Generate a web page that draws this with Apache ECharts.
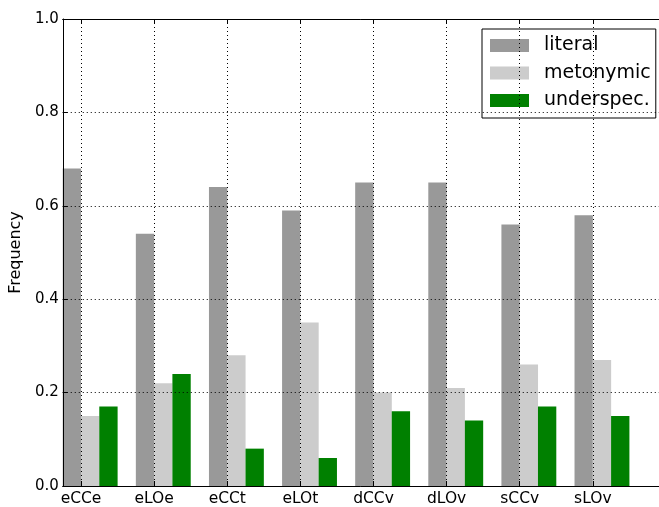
<!DOCTYPE html>
<html>
<head>
<meta charset="utf-8">
<script src="https://cdn.jsdelivr.net/npm/echarts@6/dist/echarts.min.js"></script>
<style>
  html, body { margin: 0; padding: 0; background: #fff; }
  #chart { width: 659px; height: 507px; }
</style>
</head>
<body>
<div id="chart"></div>
<script>
// categories and values
const categories = ["eCCe", "eLOe", "eCCt", "eLOt", "dCCv", "dLOv", "sCCv", "sLOv"];
const literal = [0.68, 0.54, 0.64, 0.59, 0.65, 0.65, 0.56, 0.58];
const metonymic = [0.15, 0.22, 0.28, 0.35, 0.20, 0.21, 0.26, 0.27];
const underspec = [0.17, 0.24, 0.08, 0.06, 0.16, 0.14, 0.17, 0.15];
const yTicks = [0, 0.2, 0.4, 0.6, 0.8, 1.0];

// matplotlib style: bars at index, index+w, index+2w; tick at index+w
const W = 0.25;
const tickPos = categories.map((c, i) => i + W);
const FONT = "DejaVu Sans";

const chart = echarts.init(document.getElementById("chart"), null, { renderer: "canvas" });

function barSeries(name, values, k, color) {
  return {
    name: name,
    type: "bar",
    xAxisIndex: 0,
    barWidth: 18.33,
    barGap: "-100%",
    itemStyle: { color: color },
    emphasis: { disabled: true },
    data: values.map((v, i) => [i + W * k + W / 2, v]),
  };
}

const gridLine = { show: true, lineStyle: { color: "#000", width: 1, type: [1, 3] } };

const option = {
  animation: false,
  grid: { left: 61, right: 0, top: 19, bottom: 18, containLabel: false },
  legend: {
    orient: "vertical",
    left: 482,
    top: 29,
    width: 174,
    padding: [7, 5, 8, 8],
    borderColor: "#000",
    borderWidth: 1,
    itemWidth: 39,
    itemHeight: 13,
    itemGap: 8.5,
    icon: "rect",
    selectedMode: false,
    textStyle: { fontFamily: FONT, fontSize: 19, color: "#000", padding: [0, 0, 0, 10] },
    data: ["literal", "metonymic", "underspec."],
  },
  xAxis: [
    {
      type: "value",
      min: 0,
      max: 8.155,
      z: 5,
      axisLine: { show: true, onZero: false, lineStyle: { color: "#000", width: 1 } },
      axisTick: { show: true, inside: true, length: 5, customValues: tickPos, lineStyle: { color: "#000" } },
      axisLabel: {
        customValues: tickPos,
        margin: 5,
        fontFamily: FONT,
        fontSize: 15.5,
        color: "#000",
        formatter: (v) => categories[Math.round(v - W)],
      },
      splitLine: gridLine,
    },
    {
      type: "value",
      position: "top",
      min: 0,
      max: 8.155,
      z: 5,
      axisLine: { show: true, onZero: false, lineStyle: { color: "#000", width: 1 } },
      axisTick: { show: true, inside: true, length: 5, customValues: tickPos, lineStyle: { color: "#000" } },
      axisLabel: { show: false },
      splitLine: { show: false },
    },
  ],
  yAxis: {
    type: "value",
    min: 0,
    max: 1,
    interval: 0.2,
    z: 5,
    name: "Frequency",
    nameLocation: "middle",
    nameGap: 32,
    nameTextStyle: { fontFamily: FONT, fontSize: 16, color: "#000" },
    axisLine: { show: true, lineStyle: { color: "#000", width: 1 } },
    axisTick: { show: true, inside: true, length: 5, lineStyle: { color: "#000" } },
    axisLabel: {
      margin: 4,
      fontFamily: FONT,
      fontSize: 15,
      color: "#000",
      customValues: yTicks,
      formatter: (v) => v.toFixed(1),
    },
    splitLine: gridLine,
  },
  series: [
    barSeries("literal", literal, 0, "#999999"),
    barSeries("metonymic", metonymic, 1, "#cccccc"),
    barSeries("underspec.", underspec, 2, "#008000"),
  ],
};

chart.setOption(option);
</script>
</body>
</html>
